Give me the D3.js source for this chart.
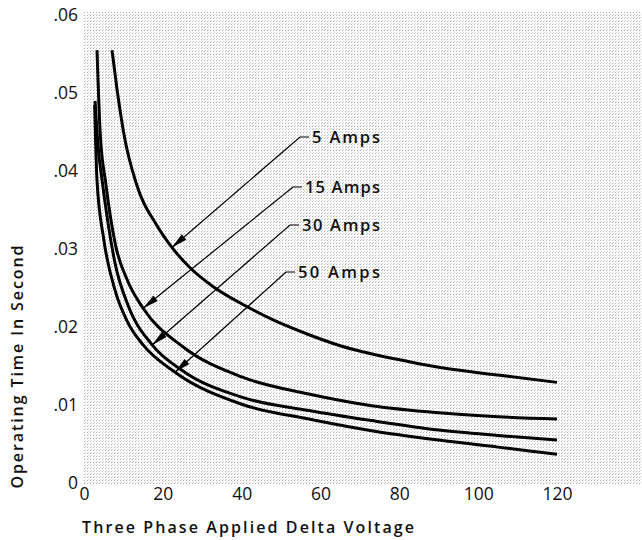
<!DOCTYPE html>
<html><head><meta charset="utf-8">
<script src="https://cdn.jsdelivr.net/npm/d3@7"></script>
<style>html,body{margin:0;padding:0;background:#fff;} svg{display:block;}</style>
</head><body>
<svg id="c" width="642" height="540"></svg>
<script>
// ---- data ----
const xTicks = [0, 20, 40, 60, 80, 100, 120];
const yTicks = [0, 0.01, 0.02, 0.03, 0.04, 0.05, 0.06];
const yTickLabels = ["0", ".01", ".02", ".03", ".04", ".05", ".06"];
const seriesNames = ["5 Amps", "15 Amps", "30 Amps", "50 Amps"];

const volts5  = [7.1, 8.4, 10.4, 13.2, 18.5, 22.3, 26.9, 32.7, 41.4, 48.0, 56.6, 65.0, 73.4, 82.0, 90.4, 105.6, 120];
const time5   = [.0555, .0504, .0440, .0385, .0330, .0302, .0276, .0252, .0226, .0209, .0191, .0176, .0165, .0156, .0148, .0138, .0129];
const volts15 = [3.3, 4.1, 5.5, 8, 11, 15, 25, 40, 57, 73, 90, 105, 120];
const time15  = [.0555, .0449, .0385, .0305, .0260, .0224, .0175, .0136, .0114, .0099, .0090, .0085, .0082];
const volts30 = [2.8, 3.6, 4.6, 8, 11, 17.3, 25, 40, 57, 73, 90, 105, 120];
const time30  = [.0490, .0430, .0388, .0279, .0230, .0177, .0144, .0110, .0093, .0080, .0068, .0061, .0055];
const volts50 = [2.7, 3.3, 5, 8, 11, 15, 23.1, 40, 57, 73, 90, 105, 120];
const time50  = [.0485, .0388, .0313, .0245, .0207, .0177, .0142, .0101, .0082, .0067, .0055, .0046, .0037];
// voltage at which each label's arrow touches its curve
const arrowVolts = [22.3, 15, 17.3, 23.1];

const series = [
  {name: seriesNames[0], v: volts5,  t: time5},
  {name: seriesNames[1], v: volts15, t: time15},
  {name: seriesNames[2], v: volts30, t: time30},
  {name: seriesNames[3], v: volts50, t: time50}
];

// ---- layout ----
const svg = d3.select("#c");
const x = d3.scaleLinear().domain([0, 120]).range([84, 557]);
const y = d3.scaleLinear().domain([0, 0.06]).range([483, 15]);
const FONT = "'Open Sans', 'DejaVu Sans', sans-serif";

// graph-paper texture
const defs = svg.append("defs");
const pat = defs.append("pattern").attr("id", "paper")
  .attr("patternUnits", "userSpaceOnUse").attr("width", 3).attr("height", 3);
pat.append("rect").attr("width", 3).attr("height", 3).attr("fill", "#fff");
pat.append("rect").attr("x", 0).attr("y", 0).attr("width", 1).attr("height", 1).attr("fill", "#b0b0b0");
pat.append("rect").attr("x", 1).attr("y", 2).attr("width", 1).attr("height", 1).attr("fill", "#d4d4d4");
svg.append("rect").attr("x", 83).attr("y", 12).attr("width", 642 - 83).attr("height", 485 - 12)
  .attr("fill", "url(#paper)");

// axes (labels only)
const gy = svg.append("g").attr("transform", "translate(84,0)")
  .call(d3.axisLeft(y).tickValues(yTicks).tickFormat((d, i) => yTickLabels[i]).tickSize(0).tickPadding(6));
const gx = svg.append("g").attr("transform", "translate(0,483)")
  .call(d3.axisBottom(x).tickValues(xTicks).tickSize(0).tickPadding(5));
[gx, gy].forEach(g => {
  g.select(".domain").remove();
  g.selectAll("text").attr("font-family", FONT).attr("font-size", 17.5).attr("fill", "#111");
});

// curves
const line = d3.line().x(d => x(d[0])).y(d => y(d[1])).curve(d3.curveMonotoneX);
series.forEach(s => {
  svg.append("path").datum(s.v.map((v, i) => [v, s.t[i]]))
    .attr("d", line).attr("fill", "none").attr("stroke", "#000").attr("stroke-width", 3);
});

// labels with leader arrows
const labelRight = 380;
const labelBase = [143, 193, 231, 278];
const labelWidth = [68, 75, 78, 82];
series.forEach((s, i) => {
  const tx = labelRight - labelWidth[i];
  svg.append("text").attr("x", labelRight).attr("y", labelBase[i])
    .attr("text-anchor", "end").attr("font-family", FONT).attr("font-weight", 600)
    .attr("font-size", 16.5).attr("textLength", labelWidth[i]).attr("lengthAdjust", "spacing")
    .attr("fill", "#111").text(s.name);
  const yc = labelBase[i] - 6;
  const x0 = tx - 12;
  const tv = arrowVolts[i];
  const tt = d3.scaleLinear().domain(s.v).range(s.t)(tv);
  const px = x(tv), py = y(tt);
  svg.append("path").attr("d", `M${tx - 3},${yc}L${x0},${yc}L${px},${py}`)
    .attr("fill", "none").attr("stroke", "#000").attr("stroke-width", 1.2);
  const dx = x0 - px, dy = yc - py, L = Math.hypot(dx, dy);
  const ux = dx / L, uy = dy / L, nx = -uy, ny = ux;
  const bl = 16, hw = 3.5;
  const bx = px + ux * bl, by = py + uy * bl;
  svg.append("path")
    .attr("d", `M${px},${py}L${bx + nx * hw},${by + ny * hw}L${bx - nx * hw},${by - ny * hw}Z`)
    .attr("fill", "#000");
});

// axis titles
svg.append("text").attr("x", 82).attr("y", 533)
  .attr("font-family", FONT).attr("font-weight", 600).attr("font-size", 16)
  .attr("textLength", 332).attr("lengthAdjust", "spacing").attr("fill", "#111")
  .text("Three Phase Applied Delta Voltage");
svg.append("text").attr("transform", "translate(23,367) rotate(-90)")
  .attr("text-anchor", "middle")
  .attr("font-family", FONT).attr("font-weight", 600).attr("font-size", 16)
  .attr("textLength", 243).attr("lengthAdjust", "spacing").attr("fill", "#111")
  .text("Operating Time In Second");
</script>
</body></html>
